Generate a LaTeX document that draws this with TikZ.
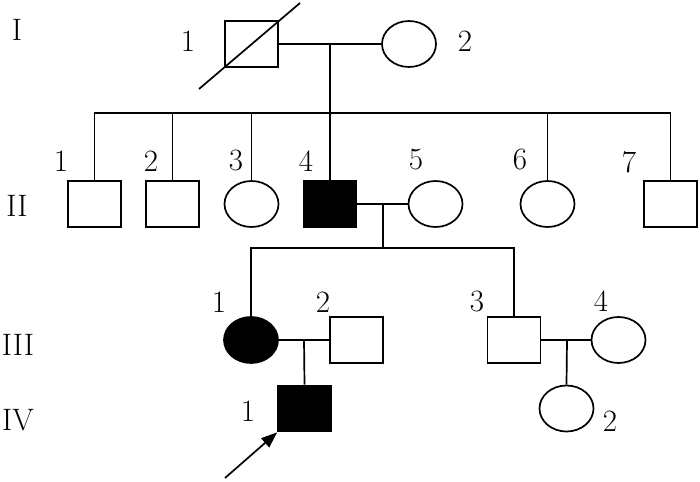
\documentclass[tikz,border=0pt]{standalone}
\usetikzlibrary{arrows.meta,shapes.geometric}
\begin{document}
\begin{tikzpicture}[x=1pt,y=-1pt,line width=1.7pt,
  male/.style={draw,rectangle,minimum width=53pt,minimum height=46pt,inner sep=0pt},
  female/.style={draw,ellipse,minimum width=54pt,minimum height=46pt,inner sep=0pt},
  affected/.style={fill=black},
  lab/.style={font=\fontsize{31}{31}\selectfont,inner sep=0pt},
  gen/.style={font=\fontsize{31}{31}\selectfont,inner sep=0pt}]
\useasboundingbox (0,0) rectangle (700,481);
% generation labels
\node[gen] (gI) at (17,30) {I};
\node[gen] (gII) at (17,206) {II};
\node[gen] (gIII) at (18,345) {III};
\node[gen] (gIV) at (18,420) {IV};
% generation I
\node[male] (i1) at (251.5,44) {};
\node[female] (i2) at (409,44) {};
\node[lab] (li1) at (188,41) {1};
\node[lab] (li2) at (465,41) {2};
\coordinate (d1) at (199,89);
\coordinate (d2) at (300,3);
\draw (d1) -- (d2);
\coordinate (m1) at (330,44);
\draw (i1.east) -- (i2.west);
% generation II
\node[male] (ii1) at (94.5,204) {};
\node[male] (ii2) at (172.5,204) {};
\node[female] (ii3) at (251.5,204) {};
\node[male,affected] (ii4) at (330,204) {};
\node[female] (ii5) at (435.5,204) {};
\node[female] (ii6) at (547.5,204) {};
\node[male] (ii7) at (670.5,204) {};
\node[lab] (lii1) at (61,161) {1};
\node[lab] (lii2) at (151,161) {2};
\node[lab] (lii3) at (236,161) {3};
\node[lab] (lii4) at (306,161) {4};
\node[lab] (lii5) at (416,160) {5};
\node[lab] (lii6) at (520,160) {6};
\node[lab] (lii7) at (629,162) {7};
\coordinate (s1) at (330,113);
\draw (m1) -- (ii4.north);
\draw (ii1.north) |- (ii7.north |- s1) -- (ii7.north);
\draw (ii2.north) -- (ii2.north |- s1);
\draw (ii3.north) -- (ii3.north |- s1);
\draw (ii6.north) -- (ii6.north |- s1);
% II-4 x II-5
\draw (ii4.east) -- (ii5.west);
\coordinate (m2) at (383,204);
\coordinate (s2) at (383,248);
\draw (m2) -- (s2);
% generation III
\node[female,affected] (iii1) at (251,340) {};
\node[male] (iii2) at (356.5,340) {};
\node[male] (iii3) at (514,340) {};
\node[female] (iii4) at (618.5,340) {};
\node[lab] (liii1) at (219,302) {1};
\node[lab] (liii2) at (323,302) {2};
\node[lab] (liii3) at (477,301) {3};
\node[lab] (liii4) at (601,301) {4};
\draw (iii1.north) |- (iii3.north |- s2) -- (iii3.north);
\draw (iii1.east) -- (iii2.west);
\draw (iii3.east) -- (iii4.west);
\coordinate (m3) at (304,340);
\coordinate (m4) at (567,340);
% generation IV
\node[male,affected] (iv1) at (304.5,408.5) {};
\node[female] (iv2) at (566.5,408.5) {};
\node[lab] (liv1) at (248,411) {1};
\node[lab] (liv2) at (610,421) {2};
\draw (m3) -- (iv1.north);
\draw (m4) -- (iv2.north);
% proband arrow
\coordinate (a0) at (225,478);
\draw[-{Triangle[length=16pt,width=12pt]}] (a0) -- (iv1.south west);
\end{tikzpicture}
\end{document}
